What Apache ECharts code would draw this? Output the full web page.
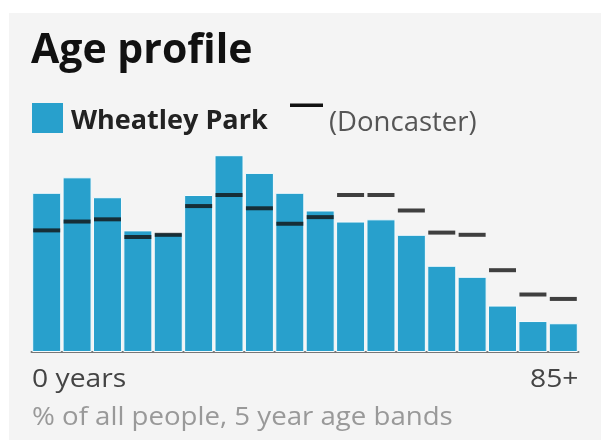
<!DOCTYPE html>
<html>
<head>
<meta charset="utf-8">
<script src="https://cdn.jsdelivr.net/npm/echarts@6/dist/echarts.min.js"></script>
<style>
html,body{margin:0;padding:0;background:#fff;}
#c{width:601px;height:443px;}
</style>
</head>
<body>
<div id="c"></div>
<script>
const categories = ['0-4','5-9','10-14','15-19','20-24','25-29','30-34','35-39','40-44','45-49','50-54','55-59','60-64','65-69','70-74','75-79','80-84','85+'];
const wheatleyPark = [7.2, 7.9, 7.0, 5.5, 5.4, 7.1, 8.9, 8.1, 7.2, 6.4, 5.9, 6.0, 5.3, 3.9, 3.4, 2.1, 1.4, 1.3];
const doncaster = [5.5, 5.9, 6.0, 5.2, 5.3, 6.6, 7.1, 6.5, 5.8, 6.1, 7.1, 7.1, 6.4, 5.4, 5.3, 3.7, 2.6, 2.4];
const axisLabels = ['0 years', '85+'];

const chart = echarts.init(document.getElementById('c'), null, {renderer:'canvas'});
const FONT = '"Open Sans", sans-serif';
chart.setOption({
  animation:false,
  backgroundColor:'#ffffff',
  grid:{left:31.5, right:22.5, top:153, bottom:91},
  xAxis:{
    type:'category', data:categories,
    axisLine:{show:true, lineStyle:{color:'#777', width:2}},
    axisTick:{show:false}, axisLabel:{show:false}, splitLine:{show:false}
  },
  yAxis:{type:'value', min:0, max:9, show:false, splitLine:{show:false}},
  series:[
    {type:'bar', name:'Wheatley Park', data:wheatleyPark, barWidth:29,
     itemStyle:{color:'#28a0cc', borderColor:'#f6fbfd', borderWidth:1}, z:2},
    {type:'scatter', name:'Doncaster', data:doncaster, symbol:'rect', symbolSize:[27,4],
     itemStyle:{color:'#111'}, z:3}
  ],
  graphic:[
    {type:'rect', z:-10, shape:{x:9, y:13, width:592, height:427}, style:{fill:'#f4f4f4'}},
    {type:'text', x:31, y:51, style:{text:'Age profile', font:'bold 41px '+FONT, fill:'#111', textVerticalAlign:'middle'}},
    {type:'rect', shape:{x:32, y:103, width:31, height:30}, style:{fill:'#28a0cc'}},
    {type:'text', x:71, y:121, style:{text:'Wheatley Park', font:'bold 27px '+FONT, fill:'#222', textVerticalAlign:'middle'}},
    {type:'rect', shape:{x:290, y:103.5, width:33, height:3.5}, style:{fill:'#111'}},
    {type:'text', x:329, y:123, style:{text:'(Doncaster)', font:'27.5px '+FONT, fill:'#555', textVerticalAlign:'middle'}},
    {type:'text', x:32, y:380, scaleX:1.13, style:{text:axisLabels[0], font:'25px '+FONT, fill:'#444', textVerticalAlign:'middle'}},
    {type:'text', x:578.5, y:380, scaleX:1.13, style:{text:axisLabels[1], font:'25px '+FONT, fill:'#444', textAlign:'right', textVerticalAlign:'middle'}},
    {type:'text', x:32, y:418, scaleX:1.105, style:{text:'% of all people, 5 year age bands', font:'25px '+FONT, fill:'#999', textVerticalAlign:'middle'}}
  ]
});
</script>
</body>
</html>
